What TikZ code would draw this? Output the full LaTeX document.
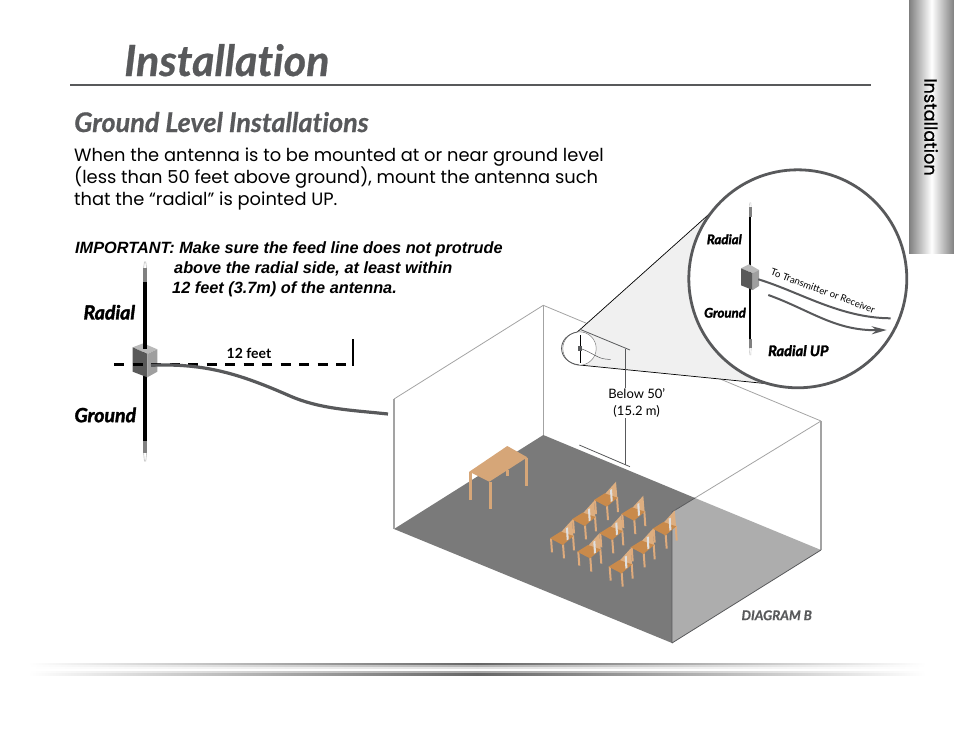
\documentclass[tikz,border=0pt]{standalone}
\usepackage{fontspec}
\setmainfont[Ligatures=NoCommon]{Lato}
\newfontfamily\gothic{Poppins}
\newfontfamily\gothicbold[FakeBold=0.7]{Poppins}
\newfontfamily\arialish{Liberation Sans}
\newfontfamily\semi[Ligatures=NoCommon,FakeBold=0.6]{Lato}
\newfontfamily\heavy[Ligatures=NoCommon,FakeBold=2]{Lato}
\usetikzlibrary{arrows.meta}
\definecolor{inkgray}{HTML}{58595B}
\definecolor{floorgray}{HTML}{7A7A7A}
\definecolor{wallgray}{HTML}{ADADAD}
\definecolor{linegray}{HTML}{A3A3A3}
\definecolor{tablewood}{HTML}{D6A678}
\definecolor{seatwood}{HTML}{C98A4B}
\definecolor{backwood}{HTML}{DDAE80}
\definecolor{legwood}{HTML}{DFAB7C}
\tikzset{
    lbl/.style={inner sep=0pt,font=\bfseries\itshape},
    roomline/.style={draw=linegray,line width=0.8pt},
    roomedge/.style={draw=linegray,line width=1.3pt},
    feedline/.style={draw=inkgray,line width=3.2pt},
    whip/.style={draw=black,line width=3.2pt},
    dimline/.style={draw=inkgray,line width=0.8pt},
    pics/chair/.style={code={
        \fill[legwood] (0,0) -- (1,14) -- (3,14) -- (2,0) -- cycle;
        \fill[legwood] (12,6) -- (13,20) -- (15,20) -- (14,6) -- cycle;
        \fill[legwood] (22,-3) -- (23,12) -- (25,12) -- (24,-3) -- cycle;
        \fill[backwood] (10,-5) -- (22,-18.3) -- (23.3,-3) -- (16,2) -- cycle;
        \fill[seatwood] (0,0) -- (10.7,-6.7) -- (23.5,-2.3) -- (12.7,6.7) -- cycle;
        \fill[gray!25] (16,-10) -- (18,-11) -- (18.7,1) -- (16.7,2) -- cycle;
    }},
}
\begin{document}
\begin{tikzpicture}[x=1pt,y=-1pt]
    \useasboundingbox (0,0) rectangle (954,734);
    % side tab and bottom bar
    \shade[left color=black!50,right color=black!50,middle color=white] (909,0) rectangle (954,253);
    \node[rotate=-90,inner sep=0pt,font=\gothicbold\fontsize{17.7}{17.7}\selectfont,text=black] (tab) at (931,127) {Installation};
    \foreach \ya/\shadecol in {663/black!60,665/black!30,667/black!12,669/white,671/black!35,673/black!60}
        \shade[left color=white,right color=white,middle color=\shadecol] (28,\ya) rectangle (926,\ya+2);
    % heading
    \node[lbl,anchor=base west,text=inkgray,font=\semi\bfseries\itshape\fontsize{43}{43}\selectfont] (title) at (124,76) {Installation};
    \draw[draw=inkgray,line width=1.4pt] (70,85) -- (871,85);
    \node[lbl,anchor=base west,text=inkgray,font=\semi\bfseries\itshape\fontsize{27}{27}\selectfont] (sub) at (74,132) {Ground Level Installations};
    \node[anchor=base west,inner sep=0pt,font=\gothic\fontsize{17.85}{17.85}\selectfont] (b1) at (74,161) {When the antenna is to be mounted at or near ground level};
    \node[anchor=base west,inner sep=0pt,font=\gothic\fontsize{17.85}{17.85}\selectfont] (b2) at (74,183) {(less than 50 feet above ground), mount the antenna such};
    \node[anchor=base west,inner sep=0pt,font=\gothic\fontsize{17.85}{17.85}\selectfont] (b3) at (74,205) {that the “radial” is pointed UP.};
    \node[lbl,anchor=base west,font=\arialish\bfseries\itshape\fontsize{16.3}{16.3}\selectfont] (i1) at (75,253) {IMPORTANT: Make sure the feed line does not protrude};
    \node[lbl,anchor=base west,font=\arialish\bfseries\itshape\fontsize{16.3}{16.3}\selectfont] (i2) at (174,273) {above the radial side, at least within};
    \node[lbl,anchor=base west,font=\arialish\bfseries\itshape\fontsize{16.3}{16.3}\selectfont] (i3) at (172,293) {12 feet (3.7m) of the antenna.};
    % left antenna
    \coordinate (wtop) at (145,282);
    \coordinate (wbot) at (145,441);
    \coordinate (dashl) at (114,364.5);
    \coordinate (dashr) at (347,364.5);
    \coordinate (feedl) at (151,365.3);
    \coordinate (feedr) at (388,414);
    \draw[whip] (wtop) -- (wbot);
    \fill[gray] (143,441) rectangle (147,453);
    \draw[gray!50,line width=0.6pt] (143.6,453) -- (144.4,461) -- (145.8,461) -- (146.6,453);
    \fill[gray] (143,268) rectangle (147,282);
    \draw[gray!50,line width=0.6pt] (143.6,268) -- (144.4,262) -- (145.8,262) -- (146.6,268);
    \fill[gray!55] (132.7,347.3) -- (143.3,343.3) -- (157.3,349.3) -- (147.3,354) -- cycle;
    \fill[black!65] (132.7,347.3) -- (147.3,354) -- (147.3,377.3) -- (132.7,371.7) -- cycle;
    \fill[gray!75] (147.3,354) -- (157.3,349.3) -- (157.3,371.7) -- (147.3,377.3) -- cycle;
    \draw[whip] (145,282) -- (145,349);
    \draw[draw=black,line width=2.4pt,dash pattern=on 10pt off 8.5pt] (dashl) -- (dashr);
    \draw[feedline] (feedl) .. controls (205,363) and (240,374) .. (290,396) .. controls (320,409) and (350,410) .. (feedr);
    \draw[draw=black,line width=1.4pt] (353,339.3) -- (353,366);
    \node[lbl,font=\bfseries\fontsize{14}{14}\selectfont] (feet) at (249,353) {12 feet};
    \node[lbl,font=\heavy\bfseries\itshape\fontsize{19.5}{19.5}\selectfont] (rad) at (109.3,312.3) {Radial};
    \node[lbl,font=\heavy\bfseries\itshape\fontsize{19.5}{19.5}\selectfont] (gnd) at (105.3,415) {Ground};
    % room
    \coordinate (ctop) at (543.3,305.3);
    \coordinate (cbot) at (543.3,435);
    \coordinate (ltop) at (394,399);
    \coordinate (lbot) at (394,529);
    \coordinate (rtop) at (821,421);
    \coordinate (rbot) at (821,550);
    \coordinate (fbot) at (672,643);
    \coordinate (fmid) at (672,512);
    \coordinate (bmid) at (695,498);
    \fill[floorgray] (lbot) -- (cbot) -- (bmid) -- (fmid) -- (fbot) -- cycle;
    \fill[wallgray] (fmid) -- (bmid) -- (rbot) -- (fbot) -- cycle;
    \draw[roomline] (ltop) -- (ctop) -- (rtop);
    \draw[roomedge] (lbot) -- (ltop);
    \draw[roomedge] (ctop) -- (cbot);
    \draw[roomedge] (rtop) -- (rbot);
    \draw[roomline] (bmid) -- (rtop);
    \draw[draw=inkgray,line width=0.8pt] (fbot) -- (rbot);
    \draw[draw=inkgray,line width=0.8pt] (fbot) -- (fmid) -- (bmid);
    % table
    \fill[tablewood] (469.3,471.7) rectangle (472,500);
    \fill[tablewood] (489.3,481.7) rectangle (492,509);
    \fill[tablewood] (525,458) rectangle (527.7,485.7);
    \fill[tablewood] (506,470) rectangle (509,475.7);
    \fill[tablewood] (469.3,471.7) -- (507.3,446) -- (527.3,457.3) -- (489.3,481.7) -- cycle;
    % chairs
    \foreach \cx/\cy in {594/500,621.3/514,572/519.3,599.3/533.3,652.7/528.7,550/538.3,
        577.3/551.7,630.7/547.3,608.7/566.7}
        \pic at (\cx,\cy) {chair};
    % zoom cone
    \coordinate (ca) at (577.3,332);
    \coordinate (cb) at (579.3,365);
    \coordinate (da) at (710,213.3);
    \coordinate (db) at (770,384);
    \fill[black!6] (ca) -- (da) -- (db) -- (cb) -- cycle;
    \draw[draw=black,line width=0.7pt] (da) -- (ca);
    \draw[draw=black,line width=0.7pt] (cb) -- (db);
    \fill[white] (579.5,348.5) circle (16.7);
    \draw[draw=gray,line width=0.5pt] (579.5,348.5) circle (16.7);
    \draw[draw=inkgray,line width=0.8pt] (ca) .. controls (556,336) and (556,362) .. (cb);
    % height mark
    \coordinate (m1) at (580,329.3);
    \coordinate (m2) at (630,350);
    \coordinate (m3) at (579.3,445);
    \coordinate (m4) at (630,466.7);
    \coordinate (mt) at (625.7,348.5);
    \coordinate (mb) at (625.7,465);
    \draw[dimline] (m1) -- (m2);
    \draw[dimline] (m3) -- (m4);
    \draw[dimline] (mt) -- (mb);
    \node[fill=white,inner sep=1pt,align=center,font=\fontsize{13}{16.5}\selectfont] (below) at (636.7,403) {Below 50’\\(15.2 m)};
    % small antenna
    \draw[draw=black,line width=1pt] (580,335) -- (580,362.7);
    \draw[draw=inkgray,line width=0.5pt] (580,348.3) .. controls (594,353) and (598,360) .. (610.7,359.3);
    \fill[inkgray] (578,346.3) rectangle (582,350.5);
    % big circle
    \node[circle,draw=inkgray,fill=white,line width=2.8pt,minimum size=218pt,inner sep=0pt] (lens) at (797.8,278.8) {};
    \draw[whip,line width=2pt] (750.3,216.7) -- (750.3,339);
    \fill[gray] (749,206.7) rectangle (751.6,216.7);
    \draw[gray!50,line width=0.4pt] (749.4,206.7) -- (749.8,202.7) -- (750.8,202.7) -- (751.2,206.7);
    \fill[gray] (749,339) rectangle (751.6,348);
    \draw[gray!50,line width=0.4pt] (749.4,348) -- (749.8,355) -- (750.8,355) -- (751.2,348);
    \fill[gray!55] (741,268.3) -- (749,264.3) -- (759,270) -- (752.7,273.3) -- cycle;
    \fill[black!65] (741,268.3) -- (752.7,273.3) -- (752.7,290) -- (741,285.3) -- cycle;
    \fill[gray!75] (752.7,273.3) -- (759,270) -- (759,286) -- (752.7,290) -- cycle;
    \coordinate (fa) at (758.3,279.3);
    \coordinate (fb) at (890.7,318.3);
    \coordinate (fc) at (768.3,295);
    \coordinate (fd) at (886.7,330);
    \draw[feedline,line width=2pt] (fa) .. controls (800,292) and (840,318) .. (fb);
    \draw[feedline,line width=2pt,-{Stealth[length=15pt,width=8pt]}] (fc) .. controls (810,310) and (835,331) .. (fd);
    \node[inner sep=0pt,rotate=-20.5,font=\fontsize{9.6}{9.6}\selectfont] (feedtxt) at (823,291) {To Transmitter or Receiver};
    \node[lbl,font=\heavy\bfseries\itshape\fontsize{13.2}{13.2}\selectfont] (rad2) at (724.3,239.3) {Radial};
    \node[lbl,font=\heavy\bfseries\itshape\fontsize{13.2}{13.2}\selectfont] (gnd2) at (725,312.7) {Ground};
    \node[lbl,font=\heavy\bfseries\itshape\fontsize{14.6}{14.6}\selectfont] (radup) at (798.3,350.7) {Radial UP};
    \node[lbl,text=inkgray,font=\semi\bfseries\itshape\fontsize{13.4}{13.4}\selectfont] (diag) at (776.7,615.3) {DIAGRAM B};
\end{tikzpicture}
\end{document}
